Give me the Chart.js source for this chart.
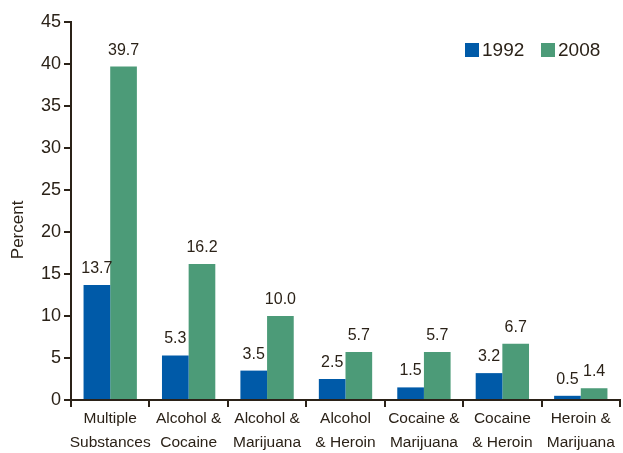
<!DOCTYPE html>
<html>
<head>
<meta charset="utf-8">
<script src="https://cdn.jsdelivr.net/npm/chart.js@4"></script>
<style>
  html, body { margin: 0; padding: 0; background: #fff; }
  #wrap { width: 623px; height: 453px; }
</style>
</head>
<body>
<div id="wrap"><canvas id="barChart"></canvas></div>
<script>
'use strict'

// data
const categories = [
  ['Multiple', 'Substances'],
  ['Alcohol &', 'Cocaine'],
  ['Alcohol &', 'Marijuana'],
  ['Alcohol', '& Heroin'],
  ['Cocaine &', 'Marijuana'],
  ['Cocaine', '& Heroin'],
  ['Heroin &', 'Marijuana']
];
const values1992 = [13.7, 5.3, 3.5, 2.5, 1.5, 3.2, 0.5];
const values2008 = [39.7, 16.2, 10.0, 5.7, 5.7, 6.7, 1.4];
const seriesNames = ['1992', '2008'];
const yTicks = [0, 5, 10, 15, 20, 25, 30, 35, 40, 45];

const ink = '#2b2218';
const blue = '#005aa8';
const green = '#4c9b78';
const fontFam = "'Liberation Sans', Arial, sans-serif";

// numbers over each bar
const valueLabels = {
  id: 'valueLabels',
  afterDatasetsDraw(chart) {
    let ctx = chart.ctx;
    ctx.save();
    ctx.fillStyle = ink;
    ctx.font = '16px ' + fontFam;
    ctx.textAlign = 'center';
    ctx.textBaseline = 'alphabetic';
    chart.data.datasets.forEach(function (ds, i) {
      let meta = chart.getDatasetMeta(i);
      meta.data.forEach(function (bar, j) {
        ctx.fillText(ds.data[j].toFixed(1), bar.x, bar.y - 12);
      });
    });
    ctx.restore();
  }
};

// small legend inside the plot, top right
const cornerLegend = {
  id: 'cornerLegend',
  afterDraw(chart) {
    let ctx = chart.ctx;
    let x = chart.chartArea.right - 155;
    let y = 50;
    ctx.save();
    ctx.font = '19px ' + fontFam;
    ctx.textBaseline = 'middle';
    chart.data.datasets.forEach(function (ds) {
      ctx.fillStyle = ds.backgroundColor;
      ctx.fillRect(x, y - 7, 14, 14);
      ctx.fillStyle = ink;
      ctx.fillText(ds.label, x + 17, y + 1);
      x += 76;
    });
    ctx.restore();
  }
};

const chartCtx = document.getElementById('barChart').getContext('2d');
const barChart = new Chart(chartCtx, {
  type: 'bar',
  data: {
    labels: categories,
    datasets: [
      { label: seriesNames[0], data: values1992, backgroundColor: blue },
      { label: seriesNames[1], data: values2008, backgroundColor: green }
    ]
  },
  options: {
    responsive: true,
    maintainAspectRatio: false,
    animation: false,
    categoryPercentage: 0.68,
    barPercentage: 1.0,
    layout: { padding: { left: 0, right: 3, top: 22, bottom: 0 } },
    plugins: {
      legend: { display: false },
      tooltip: { enabled: false }
    },
    scales: {
      x: {
        grid: {
          display: true,
          drawOnChartArea: false,
          drawTicks: true,
          tickLength: 7,
          color: ink,
          lineWidth: 2
        },
        border: { display: true, color: ink, width: 2 },
        ticks: {
          color: ink,
          font: { family: fontFam, size: 15.5, lineHeight: 1.55 },
          padding: 0,
          maxRotation: 0,
          autoSkip: false
        },
        afterFit(scale) { scale.height = 53; }
      },
      y: {
        min: 0,
        max: 45,
        afterBuildTicks(scale) {
          scale.ticks = yTicks.map(v => ({ value: v }));
        },
        grid: {
          display: true,
          drawOnChartArea: false,
          drawTicks: true,
          tickLength: 7,
          color: ink,
          lineWidth: 2
        },
        border: { display: true, color: ink, width: 2 },
        ticks: {
          color: ink,
          font: { family: fontFam, size: 18 },
          padding: 3
        },
        title: {
          display: true,
          // trailing spaces nudge the word a bit lower, like the original
          text: 'Percent        ',
          color: ink,
          font: { family: fontFam, size: 17 },
          padding: { top: 8, bottom: 0 }
        },
        afterFit(scale) { scale.width = 71; }
      }
    }
  },
  plugins: [valueLabels, cornerLegend]
});
</script>
</body>
</html>
